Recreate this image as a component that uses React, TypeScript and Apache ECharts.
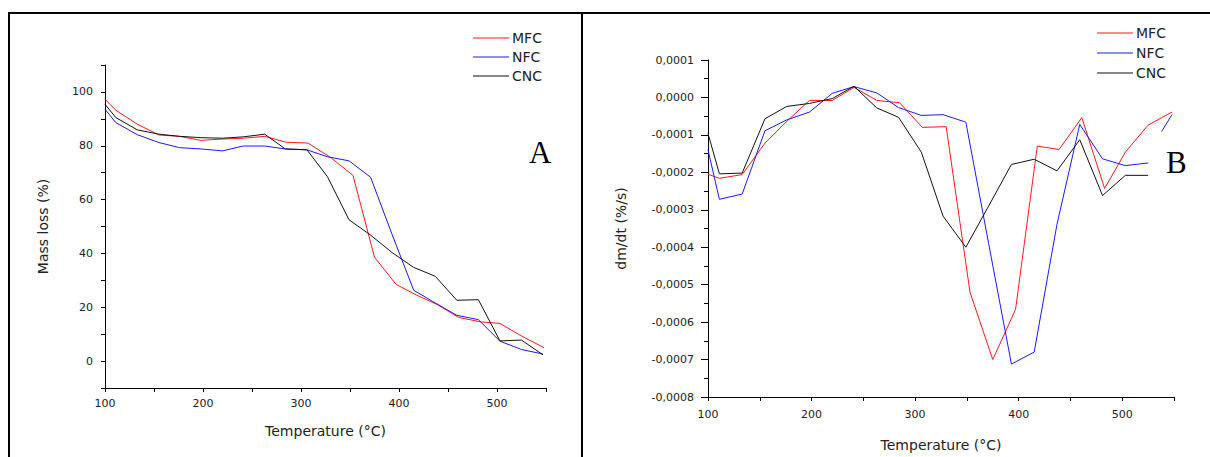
import React, { useEffect, useRef } from 'react';
import * as echarts from 'echarts';

// Temperatures (°C) of the sampled points
const TEMP_NC = [100, 111, 133, 155, 176, 198, 220, 241, 263, 284, 306, 327, 349, 371, 393, 415, 437, 459, 481, 503, 525, 547];
const TEMP_MFC = [100, 111, 133, 155, 176, 198, 220, 241, 263, 285, 307, 330, 353, 375, 397, 418, 439, 461, 483, 503, 525, 548];

// Panel A: mass loss (%)
const MFC_A = [97.3, 93.2, 88.0, 84.0, 83.5, 82.0, 82.5, 82.8, 83.5, 81.3, 81.0, 75.7, 69.0, 38.6, 28.5, 24.5, 21.0, 16.2, 14.6, 14.0, 9.3, 5.0];
const NFC_A = [93.6, 88.6, 84.1, 81.2, 79.3, 78.8, 78.1, 79.9, 79.9, 78.8, 78.5, 75.9, 74.4, 68.3, 47.0, 26.3, 21.6, 17.0, 15.4, 7.4, 4.3, 2.6];
const CNC_A = [95.4, 90.5, 85.9, 84.3, 83.5, 83.0, 82.8, 83.3, 84.3, 78.8, 78.5, 68.5, 52.5, 46.8, 40.3, 34.8, 31.5, 22.6, 22.8, 7.5, 7.8, 2.3];

// Panel B: dm/dt (%/s)
const MFC_B = [-0.000205, -0.000216, -0.000206, -0.000122, -0.000064, -0.000008, -0.000008, 0.000027, -0.000008, -0.000014, -0.00008, -0.000078, -0.00052, -0.0007, -0.000566, -0.00013, -0.000139, -0.000054, -0.000243, -0.000146, -0.000074, -0.000039];
const NFC_B = [-0.00014, -0.000272, -0.000258, -0.000089, -0.00006, -0.000039, 0.000011, 0.000029, 0.000012, -0.000027, -0.000048, -0.000046, -0.000066, -0.00039, -0.000712, -0.00068, -0.000339, -0.000072, -0.000164, -0.000182, -0.000175, null];
const NFC_B_TAIL_TEMPS = [538, 548];
const NFC_B_TAIL = [-0.000091, -0.000046];
const CNC_B = [-0.000096, -0.000204, -0.000202, -0.000057, -0.000024, -0.000016, -0.000003, 0.00003, -0.000028, -0.000053, -0.000146, -0.000317, -0.0004, -0.00029, -0.000179, -0.000165, -0.000196, -0.000113, -0.000262, -0.000208, -0.000208, null];

const SERIES_NAMES = ['MFC', 'NFC', 'CNC'];
const COLORS: Record<string, string> = { MFC: '#ff1a1a', NFC: '#1a1aff', CNC: '#111111' };

const FONT = '"DejaVu Sans", Verdana, sans-serif';
const TEXT = '#222';

function pairs(t: number[], v: (number | null)[]) {
  return t.map((x, i) => [x, v[i] === null ? '-' : v[i]]);
}

function fmtB(v: number) {
  const r = Math.round(v * 1e4);
  if (r === 0) return '0,0000';
  return (r < 0 ? '-' : '') + '0,000' + Math.abs(r);
}

export default function App() {
  const ref = useRef<HTMLDivElement>(null);

  useEffect(() => {
    if (!ref.current) return;
    const chart = echarts.init(ref.current, null, { renderer: 'svg' });

    const xAxisBase = (gridIndex: number, nameGap: number, margin: number) => ({
      gridIndex,
      type: 'value',
      min: 100,
      max: 550,
      interval: 50,
      axisLine: { show: true, onZero: false, lineStyle: { color: '#000', width: 1 } },
      axisTick: { show: true, length: 4, lineStyle: { color: '#000' } },
      axisLabel: {
        formatter: (v: number) => (v % 100 === 0 ? String(v) : ''),
        fontSize: 11,
        color: TEXT,
        fontFamily: FONT,
        margin,
      },
      splitLine: { show: false },
      name: 'Temperature (°C)',
      nameLocation: 'middle',
      nameGap,
      nameTextStyle: { fontSize: 14, color: TEXT, fontFamily: FONT },
    });

    const line = (name: string, xi: number, data: any[]) => ({
      type: 'line',
      name,
      xAxisIndex: xi,
      yAxisIndex: xi,
      data,
      symbol: 'none',
      showSymbol: false,
      connectNulls: false,
      color: COLORS[name],
      lineStyle: { width: 1, color: COLORS[name] },
      itemStyle: { color: COLORS[name] },
      emphasis: { disabled: true },
    });

    const legendBase = (left: number, top: number, itemGap: number) => ({
      orient: 'vertical',
      left,
      top,
      itemWidth: 36,
      itemHeight: 1,
      itemGap,
      icon: 'rect',
      padding: 0,
      selectedMode: false,
      data: SERIES_NAMES.map((n) => ({ name: n, itemStyle: { color: COLORS[n] } })),
      textStyle: { fontSize: 14, color: TEXT, fontFamily: FONT, padding: [0, 0, 0, -2] },
    });

    chart.setOption({
      animation: false,
      backgroundColor: '#fff',
      grid: [
        { left: 105, top: 65, width: 441, height: 323 },
        { left: 708, top: 60, width: 466, height: 342 },
      ],
      xAxis: [xAxisBase(0, 36, 10), xAxisBase(1, 41, 12)],
      yAxis: [
        {
          gridIndex: 0,
          type: 'value',
          min: -10,
          max: 110,
          interval: 10,
          axisLine: { show: true, onZero: false, lineStyle: { color: '#000', width: 1 } },
          axisTick: { show: true, length: 4, lineStyle: { color: '#000' } },
          axisLabel: {
            formatter: (v: number) => (v >= 0 && v <= 100 && v % 20 === 0 ? String(v) : ''),
            fontSize: 11,
            color: TEXT,
            fontFamily: FONT,
            margin: 12,
          },
          splitLine: { show: false },
          name: 'Mass loss (%)',
          nameLocation: 'middle',
          nameGap: 55,
          nameTextStyle: { fontSize: 14, color: TEXT, fontFamily: FONT },
        },
        {
          gridIndex: 1,
          type: 'value',
          min: -0.0008,
          max: 0.0001,
          interval: 0.0001,
          axisLine: { show: true, onZero: false, lineStyle: { color: '#000', width: 1 } },
          axisTick: { show: true, length: 7, lineStyle: { color: '#000' } },
          minorTick: { show: true, splitNumber: 2, length: 4, lineStyle: { color: '#000' } },
          axisLabel: {
            formatter: (v: number) => fmtB(v),
            fontSize: 11,
            color: TEXT,
            fontFamily: FONT,
            margin: 14,
          },
          splitLine: { show: false },
          minorSplitLine: { show: false },
          name: 'dm/dt (%/s)',
          nameLocation: 'middle',
          nameGap: 80,
          nameTextStyle: { fontSize: 14, color: TEXT, fontFamily: FONT },
        },
      ],
      legend: [legendBase(473, 31, 5), legendBase(1097, 26, 6)],
      series: [
        line('MFC', 0, pairs(TEMP_MFC, MFC_A)),
        line('NFC', 0, pairs(TEMP_NC, NFC_A)),
        line('CNC', 0, pairs(TEMP_NC, CNC_A)),
        line('MFC', 1, pairs(TEMP_MFC, MFC_B)),
        line('NFC', 1, pairs(TEMP_NC, NFC_B).concat(pairs(NFC_B_TAIL_TEMPS, NFC_B_TAIL))),
        line('CNC', 1, pairs(TEMP_NC, CNC_B)),
      ],
      graphic: [
        { type: 'line', shape: { x1: 8, y1: 13, x2: 1210, y2: 13 }, style: { stroke: '#000', lineWidth: 2 }, silent: true },
        { type: 'line', shape: { x1: 9, y1: 12, x2: 9, y2: 457 }, style: { stroke: '#000', lineWidth: 2 }, silent: true },
        { type: 'line', shape: { x1: 582, y1: 12, x2: 582, y2: 457 }, style: { stroke: '#000', lineWidth: 2 }, silent: true },
        {
          type: 'text',
          x: 529,
          y: 152,
          style: { text: 'A', fontSize: 31, fontFamily: '"Liberation Serif", "Times New Roman", serif', fill: '#000', verticalAlign: 'middle', textAlign: 'left' },
          silent: true,
        },
        {
          type: 'text',
          x: 1166,
          y: 162,
          style: { text: 'B', fontSize: 31, fontFamily: '"Liberation Serif", "Times New Roman", serif', fill: '#000', verticalAlign: 'middle', textAlign: 'left' },
          silent: true,
        },
      ],
    });

    return () => chart.dispose();
  }, []);

  return (
    <div style={{ position: 'absolute', left: 0, top: 0, width: 1210, height: 457, overflow: 'hidden', background: '#fff' }}>
      <div ref={ref} style={{ width: 1210, height: 457 }} />
    </div>
  );
}
